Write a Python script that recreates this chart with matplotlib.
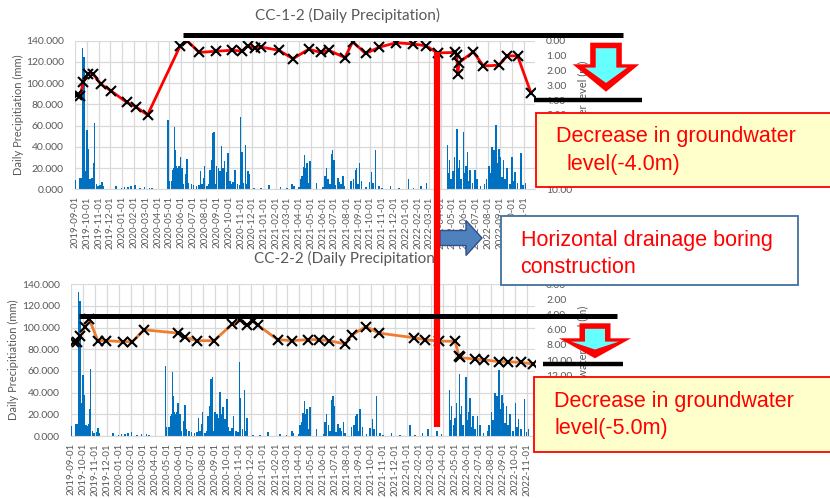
import matplotlib
matplotlib.use("Agg")
import matplotlib.pyplot as plt
import matplotlib.dates as mdates
import matplotlib.ticker as mticker
from matplotlib.patches import Rectangle, Polygon
import pandas as pd

# ---------------- data ----------------
rain_dates = [
    "2019-09-01", "2019-09-14", "2019-09-17", "2019-09-20", "2019-09-24", "2019-09-26", "2019-09-30",
    "2019-10-02", "2019-10-05", "2019-10-09", "2019-10-12", "2019-10-15", "2019-10-19", "2019-10-21",
    "2019-10-26", "2019-10-30", "2019-11-05", "2019-11-09", "2019-11-12", "2019-12-16", "2019-12-30",
    "2020-01-07", "2020-01-16", "2020-01-24", "2020-02-02", "2020-02-15", "2020-02-27", "2020-03-11",
    "2020-03-17",
    "2020-04-28", "2020-04-30", "2020-05-07", "2020-05-11", "2020-05-13", "2020-05-15", "2020-05-17",
    "2020-05-20", "2020-05-23", "2020-05-26", "2020-05-30", "2020-06-03", "2020-06-07", "2020-06-12",
    "2020-06-16", "2020-06-20", "2020-06-27", "2020-07-03", "2020-07-10", "2020-07-16", "2020-07-20",
    "2020-07-24", "2020-07-29", "2020-07-31", "2020-08-06", "2020-08-10", "2020-08-14", "2020-08-19",
    "2020-08-21", "2020-08-25", "2020-08-29", "2020-08-31", "2020-09-05", "2020-09-09", "2020-09-13",
    "2020-09-17", "2020-09-21", "2020-09-26", "2020-09-30", "2020-10-04", "2020-10-08", "2020-10-13",
    "2020-10-17", "2020-10-24", "2020-10-29", "2020-11-01", "2020-11-04", "2020-11-09", "2020-11-14",
    "2020-11-17", "2020-11-20", "2020-11-22", "2020-12-06", "2020-12-23",
    "2021-01-13", "2021-02-12", "2021-03-01", "2021-03-14", "2021-03-18", "2021-03-31", "2021-04-04",
    "2021-04-08", "2021-04-12", "2021-04-15", "2021-04-18", "2021-04-21", "2021-04-25", "2021-04-29",
    "2021-05-16", "2021-06-02", "2021-06-06", "2021-06-10", "2021-06-15", "2021-06-19", "2021-06-23",
    "2021-06-26", "2021-06-30", "2021-07-04", "2021-07-10", "2021-07-14", "2021-07-18", "2021-07-23",
    "2021-07-27", "2021-08-13", "2021-08-19", "2021-08-24", "2021-08-27", "2021-08-31", "2021-09-03",
    "2021-09-09", "2021-09-20", "2021-09-29", "2021-10-05", "2021-10-09", "2021-10-15", "2021-10-24",
    "2021-11-01", "2021-11-22", "2021-12-14",
    "2022-01-08", "2022-01-21", "2022-02-09", "2022-02-23", "2022-03-17", "2022-03-29", "2022-04-18",
    "2022-04-21", "2022-04-23", "2022-04-28", "2022-05-02", "2022-05-06", "2022-05-13", "2022-05-16",
    "2022-05-19", "2022-05-23", "2022-05-30", "2022-06-02", "2022-06-05", "2022-06-09", "2022-06-12",
    "2022-06-16", "2022-06-22", "2022-06-28", "2022-07-04", "2022-07-13", "2022-07-23", "2022-07-28",
    "2022-08-03", "2022-08-07", "2022-08-11", "2022-08-16", "2022-08-20", "2022-08-22", "2022-08-26",
    "2022-08-29", "2022-09-02", "2022-09-06", "2022-09-10", "2022-09-14", "2022-09-19", "2022-09-26",
    "2022-10-02", "2022-10-06", "2022-10-10", "2022-10-16", "2022-10-25", "2022-10-30", "2022-11-05",
]
rain_mm = [
    9, 11, 11, 133, 125, 30, 17, 56, 38, 10, 9, 11, 25, 62, 5, 3, 4, 7, 3, 3, 1, 2, 2, 3, 4, 1, 2, 1.5, 1,
    65, 8, 8, 18, 20, 59, 37, 22, 20, 22, 30, 20, 5, 14, 29, 6, 5, 4, 3, 4, 17, 5, 11, 22, 3, 5, 18, 28,
    53, 54, 5, 22, 20, 17, 41, 20, 27, 16, 34, 8, 5, 7, 18, 5, 4, 68, 35, 6, 42, 5, 17, 14, 1, 1,
    4, 2, 1, 5, 3, 2, 10, 13, 21, 32, 20, 25, 6, 27, 6, 2, 13, 20, 10, 5, 33, 37, 28, 4, 11, 7, 5, 13, 3,
    8, 10, 18, 20, 5, 25, 8, 2, 7, 16, 6, 37, 3, 1, 3, 1,
    10, 1, 3, 6, 5, 2, 42, 15, 28, 10, 17, 30, 57, 20, 28, 10, 54, 15, 22, 35, 8, 18, 6, 18, 10, 3, 5, 10,
    22, 15, 40, 37, 20, 61, 25, 38, 30, 12, 28, 10, 20, 5, 30, 8, 16, 6, 34, 4, 6,
]

gw1_dates = [
    "2019-09-06", "2019-09-14", "2019-09-22", "2019-10-05", "2019-10-17", "2019-11-07", "2019-12-02",
    "2020-01-12", "2020-02-04", "2020-03-06", "2020-05-29", "2020-06-17", "2020-07-17", "2020-08-29",
    "2020-10-11", "2020-11-04", "2020-11-19", "2020-12-09", "2020-12-24",
    "2021-02-07", "2021-03-16", "2021-04-26", "2021-05-26", "2021-06-16", "2021-07-28", "2021-08-17",
    "2021-09-19", "2021-10-25", "2021-12-07",
    "2022-01-20", "2022-02-21", "2022-03-24", "2022-05-08", "2022-05-12", "2022-05-15", "2022-05-18",
    "2022-06-24", "2022-07-20", "2022-08-28", "2022-09-20", "2022-10-16", "2022-11-20",
]
gw1_depth = [
    3.68, 3.75, 2.79, 2.21, 2.21, 2.93, 3.36,
    4.14, 4.43, 5.0, 0.36, 0.02, 0.79, 0.71, 0.64, 0.71, 0.36, 0.5, 0.43,
    0.64, 1.21, 0.57, 0.79, 0.64, 1.14, 0.07, 0.86, 0.43, 0.14,
    0.22, 0.34, 0.82, 0.79, 0.93, 2.27, 1.47, 0.75, 1.70, 1.65, 1.02, 1.02, 3.54,
]

gw2_dates = [
    "2019-09-09", "2019-09-17", "2019-09-24", "2019-10-07", "2019-10-17", "2019-11-08", "2019-11-30",
    "2020-01-11", "2020-02-04", "2020-03-04", "2020-05-29", "2020-06-17", "2020-07-17", "2020-08-29",
    "2020-10-13", "2020-11-03", "2020-11-20", "2020-12-05", "2020-12-19",
    "2021-02-06", "2021-03-14", "2021-04-25", "2021-05-23", "2021-06-16", "2021-07-27", "2021-08-13",
    "2021-09-18", "2021-10-21",
    "2022-01-19", "2022-02-15", "2022-03-23", "2022-05-02", "2022-05-12", "2022-05-14", "2022-06-22",
    "2022-07-15", "2022-08-22", "2022-09-14", "2022-10-16", "2022-11-15",
]
gw2_depth = [
    7.57, 7.57, 6.86, 5.57, 4.57, 7.43, 7.43,
    7.57, 7.57, 6.0, 6.43, 7.0, 7.43, 7.43, 5.29, 4.71, 5.43, 4.86, 5.43,
    7.29, 7.43, 7.29, 7.29, 7.43, 7.86, 6.71, 5.57, 6.43,
    7.05, 7.3, 7.5, 7.5, 9.4, 9.65, 9.87, 9.95, 10.2, 10.2, 10.3, 10.5,
]

titles = ["CC-1-2 (Daily Precipitation)", "CC-2-2 (Daily Precipitation)"]
left_label = "Daily Precipitiation (mm)"
right_label = "Groundwater level (m)"

# ---------------- styles ----------------
W, H = 830, 498
GRAY = "#595959"
GRID = "#D9D9D9"
BAR = "#0070C0"
FONT = "Lato"
plt.rcParams["font.family"] = [FONT, "DejaVu Sans"]

fig = plt.figure(figsize=(W / 100, H / 100), dpi=100)


def px_axes(l, t, r, b):
    return fig.add_axes([l / W, 1 - b / H, (r - l) / W, (b - t) / H])


rd = pd.to_datetime(rain_dates)


def make_panel(box, xend, gw_dates, gw_depth, gw_max, gw_step, line_color, title_xy, title, ylab_x):
    l, t, r, b = box
    ax = px_axes(l, t, r, b)
    ax.bar(rd, rain_mm, width=4.0, color=BAR, linewidth=0, zorder=2)
    ax.set_ylim(0, 140)
    ax.set_xlim(pd.Timestamp("2019-09-01"), pd.Timestamp(xend))
    ax.yaxis.set_major_locator(mticker.MultipleLocator(20))
    ax.yaxis.set_major_formatter(mticker.FormatStrFormatter("%.3f"))
    ax.xaxis.set_major_locator(mdates.MonthLocator(bymonthday=1))
    ax.xaxis.set_major_formatter(mdates.DateFormatter("%Y-%m-%d"))
    ax.grid(True, color=GRID, lw=0.9, zorder=0)
    ax.set_axisbelow(True)
    for s in ["top", "right", "left"]:
        ax.spines[s].set_visible(False)
    ax.spines["bottom"].set_color(GRID)
    ax.tick_params(axis="both", length=0, colors=GRAY)
    ax.tick_params(axis="y", pad=8, labelsize=7.5)
    ax.tick_params(axis="x", pad=5, labelsize=7, rotation=90)
    ax.patch.set_alpha(0)

    ax2 = ax.twinx()
    ax2.plot(pd.to_datetime(gw_dates), gw_depth, color=line_color, lw=2.0,
             marker="x", ms=6.5, mec="black", mew=1.5, zorder=5)
    ax2.set_ylim(gw_max, 0)
    ax2.yaxis.set_major_locator(mticker.MultipleLocator(gw_step))
    ax2.yaxis.set_major_formatter(mticker.FormatStrFormatter("%.2f"))
    for s in ax2.spines.values():
        s.set_visible(False)
    ax2.tick_params(axis="y", length=0, colors=GRAY, pad=8, labelsize=7.5)

    fig.text(title_xy[0] / W, 1 - title_xy[1] / H, title, ha="left", va="center",
             fontsize=11, color=GRAY)
    fig.text(ylab_x / W, 1 - ((t + b) / 2) / H, left_label, rotation=90, ha="center",
             va="center", fontsize=8, color=GRAY)
    fig.text((r + 48) / W, 1 - ((t + b) / 2) / H, right_label, rotation=90, ha="center",
             va="center", fontsize=8, color=GRAY)
    return ax, ax2


make_panel((75, 40.7, 535, 189.3), "2022-11-30", gw1_dates, gw1_depth, 10, 1, "#FF0000",
           (255, 15), titles[0], 18)
make_panel((71, 284.3, 535, 436), "2022-11-21", gw2_dates, gw2_depth, 20, 2, "#ED7D31",
           (254, 258), titles[1], 13)

# ---------------- annotation overlay (pixel coordinates) ----------------
ov = fig.add_axes([0, 0, 1, 1], zorder=20)
ov.set_xlim(0, W)
ov.set_ylim(H, 0)
ov.axis("off")
ov.patch.set_alpha(0)


def hline(x0, x1, y, lw):
    ov.plot([x0, x1], [y, y], color="black", lw=lw, solid_capstyle="butt")


def down_arrow(cx, top, head_y, tip, sh, hh):
    outer = [(cx - sh, top), (cx + sh, top), (cx + sh, head_y), (cx + hh, head_y),
             (cx, tip), (cx - hh, head_y), (cx - sh, head_y)]
    ov.add_patch(Polygon(outer, closed=True, fc="#FF0000", ec="none"))
    i = 5.5
    inner = [(cx - sh + i, top + i), (cx + sh - i, top + i), (cx + sh - i, head_y + i * 0.6),
             (cx + hh - i * 2.2, head_y + i * 0.6), (cx, tip - i * 1.6),
             (cx - hh + i * 2.2, head_y + i * 0.6), (cx - sh + i, head_y + i * 0.6)]
    ov.add_patch(Polygon(inner, closed=True, fc="#66FFFF", ec="none"))


def text_box(x, y, w, h, fc, ec):
    ov.add_patch(Rectangle((x, y), w, h, fc=fc, ec=ec, lw=1.3))


TXT = dict(color="#FF0000", fontsize=15.5, family=["Liberation Sans", "DejaVu Sans"],
           va="center", ha="left")

# top chart overlays
hline(183, 623, 35, 3.6)
hline(534, 642, 99.7, 3.2)
down_arrow(606, 42.7, 64.3, 91.7, 15.8, 33.3)
text_box(535.7, 112.7, 300, 74.6, "#FFFFCC", "#FF0000")
ov.text(556, 136.5, "Decrease in groundwater", **TXT)
ov.text(566, 164.5, "level(-4.0m)", **TXT)

# construction marker
ov.plot([436.5, 436.5], [52, 427], color="#FF0000", lw=4.5, solid_capstyle="butt")
arrow_pts = [(440, 230.5), (466, 230.5), (466, 220.5), (482, 238), (466, 255.5), (466, 245.5), (440, 245.5)]
ov.add_patch(Polygon(arrow_pts, closed=True, fc="#4F81BD", ec="#2F528F", lw=1))
text_box(500.7, 216, 297.3, 69, "white", "#41719C")
ov.text(520.5, 240, "Horizontal drainage boring", **TXT)
ov.text(520.5, 267, "construction", **TXT)

# bottom chart overlays
hline(79, 617, 316, 3.6)
hline(543, 623, 364.3, 3.2)
down_arrow(595, 323.3, 338.3, 358.3, 15.5, 36)
text_box(534, 376.7, 300, 75, "#FFFFCC", "#FF0000")
ov.text(554, 401.5, "Decrease in groundwater", **TXT)
ov.text(554, 428, "level(-5.0m)", **TXT)

fig.savefig("out.png", dpi=100)
